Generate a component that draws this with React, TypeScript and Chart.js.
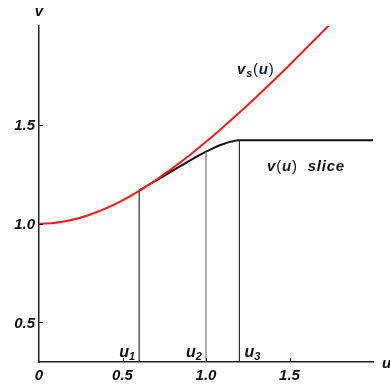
import React, { useEffect, useRef } from "react";
import { Chart, registerables } from "chart.js";

Chart.register(...registerables);

// Red curve v_s(u)
const uRed = [0, 0.1, 0.2, 0.3, 0.4, 0.5, 0.6, 0.7, 0.8, 0.9, 1.0, 1.1, 1.2, 1.3, 1.4, 1.5, 1.6, 1.7, 1.8];
const vRed = [1.0, 1.005, 1.02, 1.044, 1.077, 1.118, 1.166, 1.221, 1.281, 1.345, 1.414, 1.487, 1.562, 1.64, 1.72, 1.803, 1.887, 1.972, 2.059];

// Black curve v(u) slice
const uSlice = [0.6, 0.7, 0.8, 0.9, 1.0, 1.05, 1.1, 1.15, 1.2, 2.0];
const vSlice = [1.168, 1.218, 1.268, 1.318, 1.364, 1.385, 1.402, 1.415, 1.422, 1.422];

// Vertical marker lines u1, u2, u3
const uMarks = [0.6, 1.0, 1.2];
const vMarks = [1.168, 1.364, 1.422];
const markLabels = ["1", "2", "3"];
const markColors = ["#333333", "#777777", "#333333"];

// Axis ticks
const xTicks = [0, 0.5, 1.0, 1.5];
const xTickLabels = ["0", "0.5", "1.0", "1.5"];
const yTicks = [0.5, 1.0, 1.5];
const yTickLabels = ["0.5", "1.0", "1.5"];

const X_MIN = 0;
const X_MAX = 2.0;
const Y_MIN = 0.3;
const Y_MAX = 2.0;

const FAM = '"Liberation Sans", Arial, sans-serif';
const BI = (s: number) => `italic bold ${s}px ${FAM}`;
const RG = (s: number) => `${s}px ${FAM}`;

type Part = { t: string; f: string; dy?: number; c?: string };

function drawRich(ctx: CanvasRenderingContext2D, x: number, y: number, parts: Part[], spacing = 0) {
  let cx = x;
  ctx.textBaseline = "alphabetic";
  ctx.textAlign = "left";
  (ctx as any).letterSpacing = spacing + "px";
  for (const p of parts) {
    ctx.font = p.f;
    ctx.fillStyle = p.c || "#111";
    ctx.fillText(p.t, cx, y + (p.dy || 0));
    cx += ctx.measureText(p.t).width;
  }
  (ctx as any).letterSpacing = "0px";
}

const overlay = {
  id: "overlay",
  afterDraw(chart: any) {
    const ctx: CanvasRenderingContext2D = chart.ctx;
    const xs = chart.scales.x;
    const ys = chart.scales.y;
    const x0 = xs.getPixelForValue(X_MIN);
    const yb = ys.getPixelForValue(Y_MIN);
    ctx.save();
    // tick marks (inside)
    ctx.strokeStyle = "#111";
    ctx.lineWidth = 1;
    xTicks.forEach((v) => {
      if (v === 0) return;
      const px = Math.round(xs.getPixelForValue(v)) + 0.5;
      ctx.beginPath();
      ctx.moveTo(px, yb);
      ctx.lineTo(px, yb - 4);
      ctx.stroke();
    });
    yTicks.forEach((v) => {
      const py = Math.round(ys.getPixelForValue(v)) + 0.5;
      ctx.beginPath();
      ctx.moveTo(x0, py);
      ctx.lineTo(x0 + 4, py);
      ctx.stroke();
    });
    // tick labels
    ctx.fillStyle = "#111";
    ctx.font = BI(15);
    ctx.textBaseline = "middle";
    ctx.textAlign = "center";
    xTicks.forEach((v, i) => {
      ctx.fillText(xTickLabels[i], xs.getPixelForValue(v), yb + 14);
    });
    ctx.textAlign = "right";
    yTicks.forEach((v, i) => {
      ctx.fillText(yTickLabels[i], x0 - 4, ys.getPixelForValue(v) + 1);
    });
    // axis names
    ctx.textAlign = "center";
    ctx.fillText("v", x0, 12);
    ctx.textAlign = "left";
    ctx.fillText("u", 382, yb + 2);
    // u1, u2, u3 labels
    uMarks.forEach((u, i) => {
      const px = xs.getPixelForValue(u);
      const lx = i === 2 ? px + 5 : px - 20;
      drawRich(ctx, lx, yb - 5, [
        { t: "u", f: BI(16) },
        { t: markLabels[i], f: BI(11), dy: 3 },
      ]);
    });
    // curve labels
    drawRich(
      ctx,
      237,
      74,
      [
        { t: "v", f: BI(15) },
        { t: "s", f: BI(11), dy: 3 },
        { t: "(", f: RG(15) },
        { t: "u", f: BI(15), c: "#1a1f3a" },
        { t: ")", f: RG(15) },
      ],
      0.8
    );
    drawRich(
      ctx,
      267,
      171,
      [
        { t: "v", f: BI(15) },
        { t: "(", f: RG(15) },
        { t: "u", f: BI(15), c: "#1a1f3a" },
        { t: ")", f: RG(15) },
        { t: "  slice", f: BI(15) },
      ],
      0.8
    );
    ctx.restore();
  },
};

export default function App() {
  const ref = useRef<HTMLCanvasElement | null>(null);
  useEffect(() => {
    if (!ref.current) return;
    const datasets: any[] = [
      {
        label: "vs(u)",
        data: uRed.map((u, i) => ({ x: u, y: vRed[i] })),
        borderColor: "#ff1a1a",
        borderWidth: 2,
        pointRadius: 0,
        showLine: true,
        cubicInterpolationMode: "monotone",
      },
      ...uMarks.map((u, i) => ({
        label: "u" + markLabels[i],
        data: [
          { x: u, y: Y_MIN },
          { x: u, y: vMarks[i] },
        ],
        borderColor: markColors[i],
        borderWidth: 1.2,
        pointRadius: 0,
        showLine: true,
      })),
      {
        label: "v(u) slice",
        data: uSlice.map((u, i) => ({ x: u, y: vSlice[i] })),
        borderColor: "#111111",
        borderWidth: 2,
        pointRadius: 0,
        showLine: true,
        cubicInterpolationMode: "monotone",
      },
    ];
    const chart = new Chart(ref.current, {
      type: "scatter",
      data: { datasets },
      options: {
        animation: false,
        responsive: false,
        maintainAspectRatio: false,
        layout: { padding: { left: 31, top: 26, right: 17, bottom: 19 } },
        plugins: { legend: { display: false }, tooltip: { enabled: false } },
        scales: {
          x: {
            type: "linear",
            min: X_MIN,
            max: X_MAX,
            ticks: { display: false },
            grid: { display: false },
            border: { display: true, color: "#222", width: 1.5 },
          },
          y: {
            type: "linear",
            min: Y_MIN,
            max: Y_MAX,
            ticks: { display: false },
            grid: { display: false },
            border: { display: true, color: "#222", width: 1.5 },
          },
        },
      },
      plugins: [overlay],
    });
    return () => chart.destroy();
  }, []);
  return (
    <div style={{ position: "fixed", left: 0, top: 0, width: 390, height: 389, background: "#fff" }}>
      <canvas ref={ref} width={390} height={389} style={{ width: 390, height: 389, display: "block" }} />
    </div>
  );
}
